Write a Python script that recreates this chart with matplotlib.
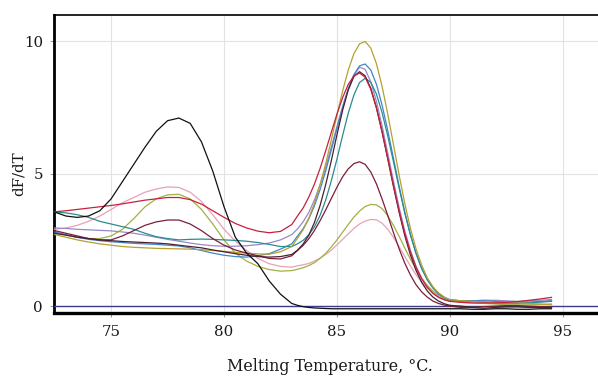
import matplotlib
matplotlib.use("Agg")
import matplotlib.pyplot as plt

# Temperature grid (deg C)
temps = [72.5, 73, 73.5, 74, 74.5, 75, 75.5, 76, 76.5, 77, 77.5, 78, 78.5, 79, 79.5,
         80, 80.5, 81, 81.5, 82, 82.5, 83,
         83.25, 83.5, 83.75, 84, 84.25, 84.5, 84.75, 85, 85.25, 85.5, 85.75, 86,
         86.25, 86.5, 86.75, 87, 87.25, 87.5, 87.75, 88, 88.25, 88.5, 88.75, 89,
         89.25, 89.5, 89.75, 90,
         90.5, 91, 91.5, 92, 92.5, 93, 93.5, 94, 94.5]

black = [3.55, 3.4, 3.35, 3.4, 3.6, 4.05, 4.7, 5.35, 6.0, 6.6, 7.0, 7.1, 6.9, 6.2, 5.1,
         3.75, 2.6, 2.0, 1.6, 0.95, 0.45, 0.1,
         0.03, -0.02, -0.05, -0.07, -0.08, -0.09, -0.1, -0.1, -0.1, -0.1, -0.1, -0.1,
         -0.1, -0.1, -0.1, -0.1, -0.1, -0.1, -0.1, -0.1, -0.1, -0.1, -0.1, -0.1,
         -0.1, -0.1, -0.1, -0.1,
         -0.1, -0.12, -0.12, -0.1, -0.1, -0.12, -0.12, -0.1, -0.1]

red = [3.56, 3.6, 3.65, 3.7, 3.75, 3.8, 3.86, 3.93, 4.0, 4.05, 4.1, 4.1, 4.02, 3.85, 3.6,
       3.35, 3.12, 2.95, 2.83, 2.77, 2.82, 3.08,
       3.40, 3.70, 4.11, 4.60, 5.19, 5.86, 6.56, 7.25, 7.87, 8.37, 8.69, 8.80,
       8.64, 8.18, 7.47, 6.57, 5.58, 4.57, 3.61, 2.76, 2.05, 1.47, 1.03, 0.71,
       0.48, 0.33, 0.24, 0.18,
       0.14, 0.12, 0.12, 0.12, 0.14, 0.17, 0.22, 0.27, 0.33]

light_pink = [2.9, 2.95, 3.05, 3.2, 3.4, 3.65, 3.9, 4.1, 4.3, 4.42, 4.5, 4.48, 4.3, 3.95, 3.45,
              2.9, 2.45, 2.1, 1.8, 1.6, 1.5, 1.47,
              1.52, 1.56, 1.61, 1.70, 1.81, 1.95, 2.11, 2.31, 2.52, 2.73, 2.93, 3.10,
              3.21, 3.27, 3.26, 3.13, 2.90, 2.60, 2.25, 1.88, 1.52, 1.19, 0.91, 0.68,
              0.50, 0.36, 0.27, 0.20,
              0.18, 0.2, 0.22, 0.2, 0.18, 0.15, 0.15, 0.18, 0.2]

yellow_green = [2.75, 2.68, 2.6, 2.55, 2.55, 2.65, 2.9, 3.3, 3.75, 4.05, 4.2, 4.22, 4.05, 3.65, 3.1,
                2.5, 2.0, 1.7, 1.5, 1.38, 1.32, 1.34,
                1.39, 1.45, 1.53, 1.64, 1.80, 1.99, 2.23, 2.50, 2.79, 3.08, 3.36, 3.59,
                3.76, 3.84, 3.82, 3.68, 3.41, 3.05, 2.64, 2.20, 1.78, 1.39, 1.06, 0.78,
                0.57, 0.41, 0.30, 0.22,
                0.15, 0.12, 0.1, 0.08, 0.05, 0.05, 0.05, 0.06, 0.08]

dark_maroon = [2.85, 2.75, 2.65, 2.55, 2.5, 2.5, 2.65, 2.85, 3.05, 3.18, 3.25, 3.25, 3.1, 2.85, 2.55,
               2.3, 2.12, 2.0, 1.9, 1.8, 1.78, 1.9,
               2.10, 2.29, 2.54, 2.85, 3.22, 3.63, 4.06, 4.49, 4.88, 5.18, 5.38, 5.45,
               5.35, 5.06, 4.61, 4.04, 3.42, 2.78, 2.17, 1.63, 1.18, 0.81, 0.54, 0.34,
               0.19, 0.10, 0.04, 0.0,
               -0.05, -0.05, -0.02, 0.0, 0.02, 0.02, 0.0, -0.02, -0.03]

teal = [3.55, 3.52, 3.45, 3.35, 3.2, 3.1, 3.0, 2.9, 2.75, 2.62, 2.55, 2.5, 2.52, 2.53, 2.52,
        2.5, 2.48, 2.45, 2.4, 2.33, 2.25, 2.25,
        2.35, 2.48, 2.69, 2.99, 3.42, 4.00, 4.73, 5.55, 6.44, 7.28, 7.97, 8.44,
        8.60, 8.45, 8.00, 7.30, 6.42, 5.46, 4.47, 3.53, 2.70, 2.00, 1.43, 1.01,
        0.70, 0.47, 0.33, 0.24,
        0.2, 0.18, 0.15, 0.12, 0.1, 0.1, 0.12, 0.15, 0.18]

blue = [2.8, 2.7, 2.6, 2.52, 2.47, 2.43, 2.4, 2.37, 2.35, 2.33, 2.3, 2.27, 2.2, 2.1, 2.0,
        1.92, 1.87, 1.85, 1.9, 1.98, 2.15, 2.35,
        2.64, 2.92, 3.29, 3.78, 4.39, 5.10, 5.89, 6.70, 7.50, 8.20, 8.74, 9.07,
        9.14, 8.91, 8.37, 7.58, 6.63, 5.59, 4.54, 3.57, 2.71, 1.99, 1.42, 0.99,
        0.68, 0.46, 0.32, 0.23,
        0.2, 0.2, 0.2, 0.18, 0.15, 0.15, 0.15, 0.17, 0.2]

olive = [2.7, 2.6, 2.5, 2.42, 2.35, 2.3, 2.25, 2.22, 2.2, 2.18, 2.17, 2.16, 2.15, 2.13, 2.1,
         2.07, 2.03, 2.0, 1.97, 1.96, 2.05, 2.25,
         2.56, 2.88, 3.31, 3.87, 4.57, 5.37, 6.27, 7.21, 8.12, 8.91, 9.53, 9.90,
         9.99, 9.74, 9.15, 8.29, 7.25, 6.11, 4.96, 3.89, 2.95, 2.17, 1.55, 1.07,
         0.73, 0.50, 0.34, 0.24,
         0.2, 0.18, 0.15, 0.13, 0.12, 0.12, 0.1, 0.08, 0.05]

lavender = [2.95, 2.93, 2.9, 2.88, 2.86, 2.84, 2.8, 2.75, 2.68, 2.6, 2.52, 2.45, 2.38, 2.32, 2.28,
            2.26, 2.26, 2.28, 2.32, 2.38, 2.5, 2.7,
            2.91, 3.18, 3.53, 4.00, 4.58, 5.25, 6.00, 6.78, 7.53, 8.20, 8.71, 9.02,
            8.94, 8.46, 7.72, 6.80, 5.77, 4.73, 3.74, 2.85, 2.12, 1.51, 1.06, 0.73,
            0.50, 0.34, 0.24, 0.18,
            0.18, 0.2, 0.22, 0.22, 0.2, 0.18, 0.2, 0.22, 0.25]

dark = [2.75, 2.68, 2.6, 2.55, 2.5, 2.47, 2.44, 2.42, 2.4, 2.38, 2.35, 2.3, 2.25, 2.2, 2.12,
        2.05, 1.98, 1.92, 1.87, 1.85, 1.87, 1.95,
        2.11, 2.34, 2.67, 3.15, 3.79, 4.58, 5.49, 6.47, 7.39, 8.16, 8.67, 8.85,
        8.69, 8.22, 7.49, 6.57, 5.56, 4.52, 3.55, 2.67, 1.94, 1.35, 0.90, 0.57,
        0.34, 0.19, 0.09, 0.03,
        0.0, -0.05, -0.08, -0.05, -0.03, -0.03, -0.05, -0.05, -0.05]

series = [
    (light_pink, "#e6a2b6"),
    (yellow_green, "#a3b043"),
    (lavender, "#9a88c8"),
    (blue, "#3f86c8"),
    (teal, "#2a8c90"),
    (olive, "#b5a030"),
    (dark_maroon, "#7b1e3a"),
    (dark, "#4a2030"),
    (red, "#c8203c"),
    (black, "#111111"),
]

x_ticks = [75, 80, 85, 90, 95]
y_ticks = [0, 5, 10]

plt.rcParams["font.family"] = ["DejaVu Serif"]

fig = plt.figure(figsize=(5.98, 3.79), dpi=100)
ax = fig.add_axes([54 / 598, 1 - 313 / 379, 1 - 54 / 598, (313 - 15) / 379])

ax.axhline(0, color="#3c3c8c", lw=1.0, zorder=3)
for vals, col in series:
    ax.plot(temps, vals, color=col, lw=0.9, zorder=4)

ax.set_xlim(72.47, 96.56)
ax.set_ylim(-0.26, 10.99)
ax.set_xticks(x_ticks)
ax.set_yticks(y_ticks)
ax.grid(True, color="#e2e2e2", lw=0.8, zorder=0)
ax.set_axisbelow(True)

ax.spines["right"].set_visible(False)
ax.spines["top"].set_linewidth(1.2)
ax.spines["left"].set_linewidth(2.0)
ax.spines["bottom"].set_linewidth(2.4)
for s in ["top", "left", "bottom"]:
    ax.spines[s].set_color("black")

ax.tick_params(axis="both", length=3, width=0.8, color="#999999", labelsize=10.8,
               labelcolor="#1a1a1a")
ax.tick_params(axis="x", pad=6)
ax.tick_params(axis="y", pad=5)

ax.set_xlabel("Melting Temperature, °C.", fontsize=11.4, color="#1a1a1a")
ax.xaxis.set_label_coords((330 - 54) / (598 - 54), -(358 - 313) / 298)
ax.set_ylabel("dF/dT", fontsize=10.8, color="#1a1a1a")
ax.yaxis.set_label_coords(-(54 - 26) / (598 - 54), (313 - 174) / 298)

fig.savefig("out.png", dpi=100)
